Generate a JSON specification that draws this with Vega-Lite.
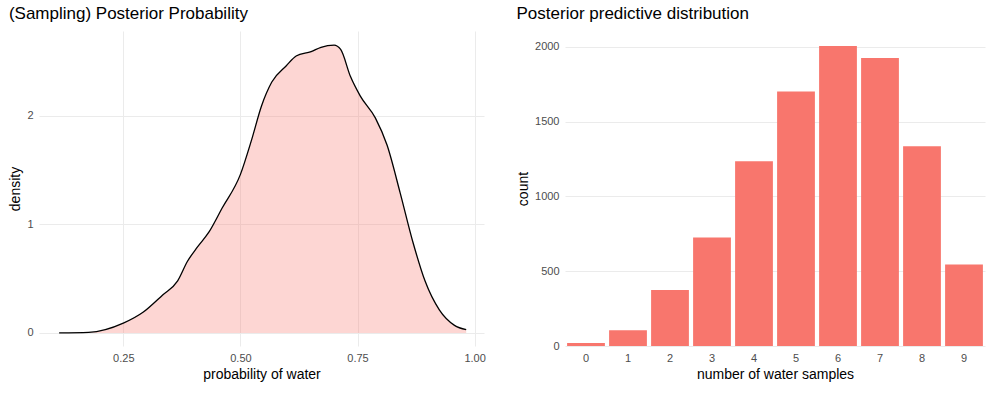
{
  "$schema": "https://vega.github.io/schema/vega-lite/v6.json",
  "background": "white",
  "padding": {"left": 8, "top": 5, "right": 8, "bottom": 5},
  "spacing": 30,
  "hconcat": [
    {
      "width": 445,
      "height": 315,
      "title": "(Sampling) Posterior Probability",
      "data": {"values": [
        {"p": 0.113, "d": 0}, {"p": 0.176, "d": 0.005}, {"p": 0.25, "d": 0.09},
        {"p": 0.292, "d": 0.19}, {"p": 0.334, "d": 0.35}, {"p": 0.366, "d": 0.48},
        {"p": 0.387, "d": 0.66}, {"p": 0.408, "d": 0.79}, {"p": 0.433, "d": 0.93},
        {"p": 0.461, "d": 1.15}, {"p": 0.5, "d": 1.46}, {"p": 0.524, "d": 1.78},
        {"p": 0.545, "d": 2.09}, {"p": 0.567, "d": 2.31}, {"p": 0.598, "d": 2.46},
        {"p": 0.619, "d": 2.55}, {"p": 0.651, "d": 2.59}, {"p": 0.672, "d": 2.63},
        {"p": 0.7, "d": 2.65}, {"p": 0.714, "d": 2.61}, {"p": 0.735, "d": 2.36},
        {"p": 0.756, "d": 2.18}, {"p": 0.788, "d": 1.98}, {"p": 0.813, "d": 1.73},
        {"p": 0.841, "d": 1.29}, {"p": 0.868, "d": 0.84}, {"p": 0.894, "d": 0.48},
        {"p": 0.925, "d": 0.21}, {"p": 0.957, "d": 0.07}, {"p": 0.982, "d": 0.03},
        {"p": 0.982, "d": 0}
      ]},
      "mark": {"type": "area", "interpolate": "monotone", "fill": "#F8766D", "fillOpacity": 0.3, "line": {"color": "black", "strokeWidth": 1.3}},
      "encoding": {
        "x": {"field": "p", "type": "quantitative", "title": "probability of water",
              "scale": {"domain": [0.07, 1.02], "nice": false},
              "axis": {"values": [0.25, 0.5, 0.75, 1.0], "format": ".2f"}},
        "y": {"field": "d", "type": "quantitative", "title": "density",
              "scale": {"domain": [-0.12, 2.78], "nice": false},
              "axis": {"values": [0, 1, 2]}}
      }
    },
    {
      "width": 420,
      "height": 315,
      "title": "Posterior predictive distribution",
      "data": {"values": [
        {"n": "0", "count": 20}, {"n": "1", "count": 105}, {"n": "2", "count": 375},
        {"n": "3", "count": 725}, {"n": "4", "count": 1235}, {"n": "5", "count": 1700},
        {"n": "6", "count": 2005}, {"n": "7", "count": 1925}, {"n": "8", "count": 1335},
        {"n": "9", "count": 545}
      ]},
      "mark": {"type": "bar", "color": "#F8766D"},
      "encoding": {
        "x": {"field": "n", "type": "ordinal", "title": "number of water samples",
              "scale": {"paddingInner": 0.1, "paddingOuter": 0.05},
              "axis": {"labelAngle": 0}},
        "y": {"field": "count", "type": "quantitative", "title": "count",
              "scale": {"domain": [0, 2105], "nice": false},
              "axis": {"values": [0, 500, 1000, 1500, 2000], "format": "d"}}
      }
    }
  ],
  "config": {
    "font": "Liberation Sans",
    "view": {"stroke": null},
    "title": {"fontSize": 17, "fontWeight": "normal", "anchor": "start", "color": "black", "offset": 8},
    "axis": {"domain": false, "ticks": false, "gridColor": "#ebebeb", "labelColor": "#4d4d4d",
             "labelFontSize": 11, "titleFontSize": 14, "titleFontWeight": "normal", "titleColor": "black",
             "labelPadding": 6}
  }
}
